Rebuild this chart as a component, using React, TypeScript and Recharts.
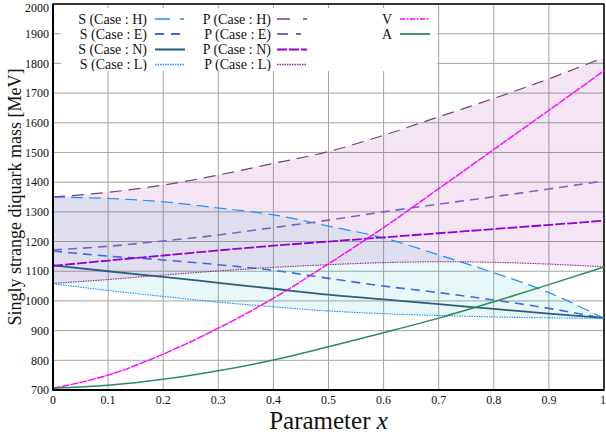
import { ComposedChart, Area, Line, XAxis, YAxis, CartesianGrid, Legend, ReferenceArea } from 'recharts';

const FONT = "'Liberation Serif', 'Times New Roman', 'DejaVu Serif', serif";

// parameter x
const X = [0, 0.1, 0.2, 0.3, 0.4, 0.5, 0.6, 0.7, 0.8, 0.9, 1];

// scalar diquark (S), cases H / E / N / L
const S_H = [1350, 1345, 1334, 1313, 1290, 1252, 1212, 1155, 1095, 1028, 941];
const S_E = [1168, 1151, 1138, 1122, 1103, 1076, 1050, 1028, 1003, 975, 941];
const S_N = [1120, 1100, 1081, 1061, 1041, 1021, 1005, 989, 973, 957, 943];
const S_L = [1058, 1035, 1015, 996, 980, 966, 957, 951, 946, 943, 941];

// pseudoscalar diquark (P)
const P_H = [1350, 1366, 1390, 1424, 1463, 1503, 1558, 1620, 1682, 1748, 1820];
const P_E = [1172, 1184, 1202, 1222, 1247, 1272, 1300, 1326, 1351, 1377, 1404];
const P_N = [1118, 1136, 1153, 1170, 1186, 1200, 1214, 1228, 1242, 1256, 1270];
const P_L = [1059, 1072, 1087, 1101, 1113, 1122, 1129, 1132, 1130, 1124, 1115];

// vector / axial-vector
const V = [706, 750, 821, 908, 1009, 1125, 1247, 1378, 1510, 1642, 1775];
const A = [706, 716, 736, 765, 801, 846, 893, 942, 997, 1055, 1114];

const X_TICKS = [0, 0.1, 0.2, 0.3, 0.4, 0.5, 0.6, 0.7, 0.8, 0.9, 1];
const Y_TICKS = [700, 800, 900, 1000, 1100, 1200, 1300, 1400, 1500, 1600, 1700, 1800, 1900, 2000];

const data = X.map((x, i) => ({
  x,
  sH: S_H[i], sE: S_E[i], sN: S_N[i], sL: S_L[i],
  pH: P_H[i], pE: P_E[i], pN: P_N[i], pL: P_L[i],
  v: V[i], a: A[i],
  sBand: [S_L[i], S_H[i]],
  pBand: [P_L[i], P_H[i]],
}));

interface Series { key: string; name: string; color: string; width: number; dash?: string; keyDash?: string }

const SERIES: Series[] = [
  { key: 'sH', name: 'S (Case : H)', color: '#1e90ff', width: 1.2, dash: '12 6', keyDash: '15 10 4 10' },
  { key: 'sE', name: 'S (Case : E)', color: '#4169e1', width: 1.6, dash: '9 6', keyDash: '9 7' },
  { key: 'sN', name: 'S (Case : N)', color: '#2c5d7c', width: 1.8 },
  { key: 'sL', name: 'S (Case : L)', color: '#1e90ff', width: 1.1, dash: '1.5 1' },
  { key: 'pH', name: 'P (Case : H)', color: '#7b3f7b', width: 1.2, dash: '12 7', keyDash: '13 13 4 10' },
  { key: 'pE', name: 'P (Case : E)', color: '#8060c8', width: 1.6, dash: '9 6', keyDash: '11 8 5 8' },
  { key: 'pN', name: 'P (Case : N)', color: '#9400d3', width: 1.8, dash: '10 2' },
  { key: 'pL', name: 'P (Case : L)', color: '#8b2f8b', width: 1.1, dash: '1.5 1' },
  { key: 'v', name: 'V', color: '#ff00ff', width: 1.4, dash: '8 1', keyDash: '5 1.5 2 1.5' },
  { key: 'a', name: 'A', color: '#2e8b57', width: 1.5 },
];

/* legend columns: text right edge, sample start */
const LEG_COLS = [
  { keys: ['sH', 'sE', 'sN', 'sL'], textEnd: 86, lineX: 94 },
  { keys: ['pH', 'pE', 'pN', 'pL'], textEnd: 210, lineX: 216 },
  { keys: ['v', 'a'], textEnd: 331, lineX: 339 },
];
const LEG_ROWS = [11, 26, 41.5, 56.5];

function KeyBox() {
  return (
    <svg width={376} height={63} style={{ display: 'block' }}>
      <rect x={0} y={0} width={376} height={63} fill="#fff" />
      {LEG_COLS.map(col => col.keys.map((k, r) => {
        const s = SERIES.find(q => q.key === k)!;
        const y = LEG_ROWS[r];
        return (
          <g key={k}>
            <text x={col.textEnd} y={y} textAnchor="end" dominantBaseline="central"
              style={{ fontFamily: FONT, fontSize: 14 }} fill="#111">{s.name}</text>
            <line x1={col.lineX} x2={col.lineX + 30} y1={y} y2={y}
              stroke={s.color} strokeWidth={s.width + 0.3} strokeDasharray={s.keyDash ?? s.dash} />
          </g>
        );
      }))}
    </svg>
  );
}

const fmtX = (v: number) => (v === 0 ? '0' : v === 1 ? '1' : v.toFixed(1));

export default function App() {
  return (
    <div style={{ position: 'absolute', left: 0, top: 0, fontFamily: FONT }}>
      <ComposedChart width={606} height={437} data={data}
        margin={{ top: 4, right: 2, bottom: 0, left: 0 }}
        style={{ fontFamily: FONT }}>
        <CartesianGrid stroke="#a4a4a4" strokeWidth={1} />
        <XAxis dataKey="x" type="number" domain={[0, 1]} ticks={X_TICKS} tickFormatter={fmtX}
          height={47} tickLine={false} tickSize={0} tickMargin={5}
          axisLine={{ stroke: '#000', strokeWidth: 2 }}
          tick={{ fontSize: 12, fill: '#111', style: { fontFamily: FONT } }}
          label={{
            content: (p: any) => {
              const vb = p.viewBox || {};
              return (
                <text x={vb.x + vb.width / 2} y={vb.y + vb.height - 8} textAnchor="middle"
                  style={{ fontFamily: FONT, fontSize: 25 }} fill="#111">
                  Parameter <tspan fontStyle="italic">x</tspan>
                </text>
              );
            },
          }}
        />
        <YAxis type="number" domain={[700, 2000]} ticks={Y_TICKS} width={53}
          tickLine={false} tickSize={0} tickMargin={4} allowDataOverflow
          axisLine={{ stroke: '#000', strokeWidth: 2 }}
          tick={{ fontSize: 12, fill: '#111', style: { fontFamily: FONT } }}
          label={{
            content: () => (
              <text x={15} y={197} transform="rotate(-90 15 197)" textAnchor="middle"
                dominantBaseline="central" style={{ fontFamily: FONT, fontSize: 18 }} fill="#111">
                Singly strange diquark mass [MeV]
              </text>
            ),
          }}
        />

        <Area dataKey="sBand" type="monotone" stroke="none" fill="#19b9c3" fillOpacity={0.1}
          isAnimationActive={false} legendType="none" />
        <Area dataKey="pBand" type="monotone" stroke="none" fill="#a326a3" fillOpacity={0.12}
          isAnimationActive={false} legendType="none" />

        {SERIES.map(s => (
          <Line key={s.key} dataKey={s.key} name={s.name} type="monotone" dot={false}
            stroke={s.color} strokeWidth={s.width} strokeDasharray={s.dash}
            isAnimationActive={false} />
        ))}

        <ReferenceArea x1={0} x2={1} y1={700} y2={2000} fill="none" stroke="#000" strokeWidth={1.5} />

        <Legend layout="horizontal" verticalAlign="middle" align="center"
          wrapperStyle={{ left: 61, top: 8, width: 376, height: 63 }}
          content={() => <KeyBox />} />
      </ComposedChart>
    </div>
  );
}
